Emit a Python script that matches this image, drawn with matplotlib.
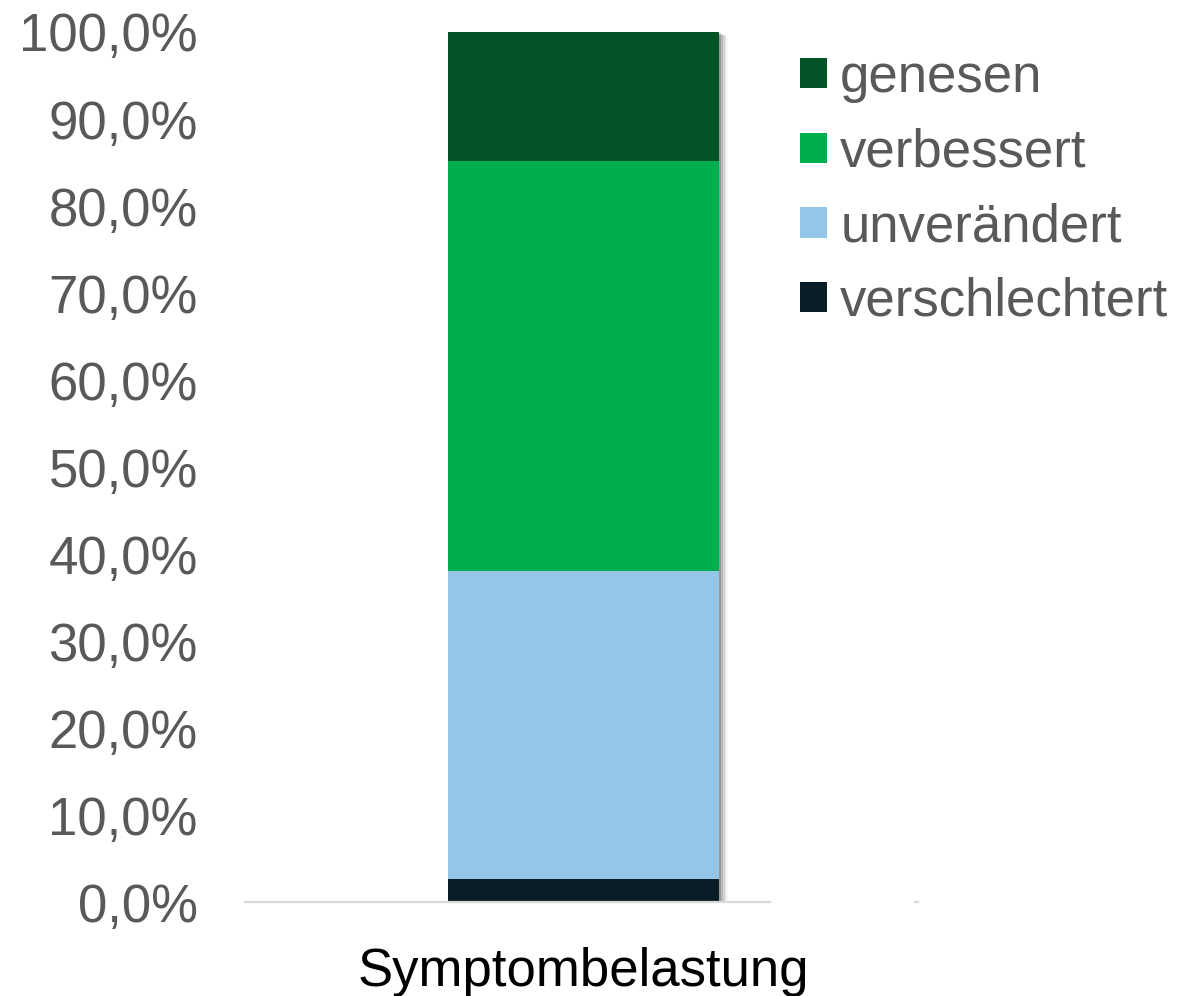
import matplotlib
matplotlib.use("Agg")
import matplotlib.pyplot as plt
import matplotlib.patheffects as pe
from matplotlib.ticker import FuncFormatter

plt.rcParams["font.family"] = ["Liberation Sans", "DejaVu Sans"]

# data (share of patients, %), stacked bottom -> top
category = "Symptombelastung"
labels = ["verschlechtert", "unverändert", "verbessert", "genesen"]
values = [2.7, 35.4, 47.1, 14.8]
colors = ["#0A1C26", "#95C6E8", "#00AE4D", "#025426"]
yticks = [0, 10, 20, 30, 40, 50, 60, 70, 80, 90, 100]

text_grey = "#595959"

fig = plt.figure(figsize=(11.79, 9.96), dpi=100)
ax = fig.add_axes([0.2078, 0.0939, 0.5708, 0.874])

width = 0.403
x = [0.003]

# soft drop shadow behind the whole column
shadow = ax.bar(x, [sum(values)], width=width, color="white", zorder=1)
fx = []
for i, a in enumerate([0.16, 0.12, 0.09, 0.06, 0.04]):
    fx.append(pe.SimplePatchShadow(offset=(1.5 + i * 1.2, -1.0 - i * 0.5),
                                   shadow_rgbFace="black", alpha=a))
for p in shadow:
    p.set_path_effects(fx + [pe.Normal()])

handles = []
bottom = 0
for lab, val, col in zip(labels, values, colors):
    b = ax.bar(x, [val], bottom=bottom, width=width, color=col, label=lab, zorder=2)
    handles.append(b)
    bottom += val

ax.set_xlim(-0.5, 0.5)
ax.set_ylim(0, 100)
ax.set_yticks(yticks)
ax.yaxis.set_major_formatter(FuncFormatter(lambda v, _: f"{v:.1f}%".replace(".", ",")))
ax.set_xticks(x)
ax.set_xticklabels([category])

ax.tick_params(axis="y", length=0, pad=34, labelsize=38, labelcolor=text_grey)
ax.tick_params(axis="x", length=0, pad=32, labelsize=38, labelcolor="black")

for s in ["top", "right", "left"]:
    ax.spines[s].set_visible(False)
ax.spines["bottom"].set_color("#D9D9D9")
ax.spines["bottom"].set_linewidth(1.6)
ax.spines["bottom"].set_bounds(-0.5, 0.28)
# little piece of the axis line peeking out beside the legend box
ax.axhline(0, xmin=0.995, xmax=1.0, color="#D9D9D9", lw=1.6, clip_on=False)

leg = fig.legend(handles[::-1], labels[::-1], loc="upper left",
                 bbox_to_anchor=(0.6786, 0.9468), frameon=False,
                 fontsize=38, labelcolor=text_grey,
                 handlelength=0.51, handleheight=0.51, handletextpad=0.25,
                 labelspacing=0.465, borderpad=0, borderaxespad=0)

fig.savefig("out.png", dpi=100, facecolor="white")
